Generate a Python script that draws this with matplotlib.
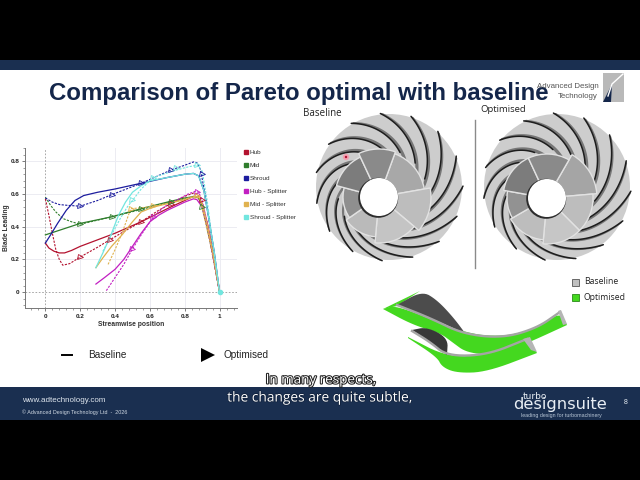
import numpy as np
import matplotlib
matplotlib.use("Agg")
import matplotlib.pyplot as plt
import matplotlib.patheffects as pe
from matplotlib.lines import Line2D
from matplotlib.patches import Circle, Polygon, Rectangle, Wedge
from matplotlib.ticker import MultipleLocator

plt.rcParams['font.family'] = ['Liberation Sans', 'DejaVu Sans']

series_names = ["Hub", "Mid", "Shroud", "Hub - Splitter", "Mid - Splitter", "Shroud - Splitter"]
series_colors = ["#b3122f", "#2f7d2c", "#1c1c9e", "#c21fc2", "#e0b24f", "#72e6df"]

base_x = [
    [0, .02, .05, .08, .11, .15, .2, .3, .4, .55, .7, .8, .85, .875, .9, .93, .96, 1],
    [0, .1, .2, .38, .55, .7, .8, .86, .88, .9, .93, .96, 1],
    [0, .03, .07, .12, .17, .22, .3, .4, .55, .7, .8, .85, .88, .91, .94, .97, 1],
    [.29, .34, .4, .45, .5, .55, .6, .65, .7, .8, .85, .87, .9, .93, .96, 1],
    [.29, .33, .38, .44, .5, .55, .62, .7, .8, .86, .88, .9, .93, .96, 1],
    [.29, .33, .38, .42, .46, .5, .55, .6, .7, .8, .85, .88, .91, .94, .97, 1],
]
base_y = [
    [.30, .27, .25, .24, .24, .255, .28, .32, .36, .43, .51, .56, .585, .58, .54, .42, .26, 0],
    [.35, .385, .42, .46, .51, .55, .575, .585, .575, .53, .40, .24, 0],
    [.30, .35, .42, .50, .56, .59, .61, .63, .665, .70, .72, .725, .71, .62, .44, .24, 0],
    [.05, .09, .14, .20, .28, .36, .43, .47, .50, .55, .57, .565, .52, .40, .24, 0],
    [.15, .21, .28, .35, .43, .49, .52, .54, .565, .585, .58, .54, .41, .25, 0],
    [.15, .24, .36, .47, .55, .61, .65, .68, .70, .72, .725, .71, .62, .44, .24, 0],
]
opt_x = [
    [0, .02, .04, .06, .08, .1, .14, .2, .3, .37, .45, .55, .65, .72, .8, .85, .87, .89, .92, .95, 1],
    [0, .03, .06, .1, .15, .2, .38, .55, .72, .82, .87, .89, .92, .96, 1],
    [0, .04, .08, .13, .2, .3, .38, .55, .72, .8, .85, .87, .89, .92, .96, 1],
    [.35, .4, .45, .5, .55, .62, .68, .75, .82, .86, .88, .9, .93, .96, 1],
    [.36, .4, .44, .47, .49, .55, .62, .72, .82, .87, .89, .92, .96, 1],
    [.33, .38, .43, .47, .5, .55, .62, .75, .82, .87, .9, .93, .96, 1],
]
opt_y = [
    [.57, .47, .36, .26, .2, .165, .175, .215, .275, .32, .37, .43, .50, .54, .585, .605, .60, .57, .44, .28, 0],
    [.58, .53, .49, .45, .43, .415, .46, .505, .55, .575, .585, .56, .43, .24, 0],
    [.575, .55, .535, .53, .525, .56, .595, .665, .745, .775, .795, .79, .75, .58, .30, 0],
    [.01, .09, .17, .265, .35, .46, .52, .56, .60, .615, .61, .56, .42, .25, 0],
    [.17, .26, .36, .45, .51, .515, .525, .545, .575, .59, .56, .42, .24, 0],
    [.25, .35, .45, .52, .56, .63, .70, .745, .765, .775, .74, .55, .30, 0],
]
marker_x = [
    [.2, .37, .55, .72, .9],
    [.2, .38, .55, .72, .9],
    [.2, .38, .55, .72, .9],
    [.5, .62, .87],
    [.49, .62, .87],
    [.5, .62, .75, .87],
]
marker_y = [
    [.215, .32, .43, .54, .565],
    [.415, .46, .505, .55, .52],
    [.525, .595, .665, .745, .72],
    [.265, .46, .61],
    [.51, .525, .585],
    [.56, .70, .755, .775],
]
x_ticks = [0, .2, .4, .6, .8, 1]
x_tick_labels = ["0", "0.2", "0.4", "0.6", "0.8", "1"]
y_ticks = [0, .2, .4, .6, .8]
y_tick_labels = ["0", "0.2", "0.4", "0.6", "0.8"]

NAVY = "#1a2f50"
fig = plt.figure(figsize=(6.4, 4.8), dpi=100, facecolor="white")

# slide furniture, in pixel coordinates
bg = fig.add_axes([0, 0, 1, 1], zorder=0)
bg.set_xlim(0, 640); bg.set_ylim(480, 0); bg.axis("off")
bg.add_patch(Rectangle((0, 0), 640, 60, color="black", lw=0))
bg.add_patch(Rectangle((0, 60), 640, 9.5, color=NAVY, lw=0))
bg.add_patch(Rectangle((0, 387), 640, 33, color=NAVY, lw=0))
bg.add_patch(Rectangle((0, 420), 640, 60, color="black", lw=0))


def chaikin(pts, n=3):
    p = np.array(pts, dtype=float)
    for _ in range(n):
        q = p[:-1] * .75 + p[1:] * .25
        r = p[:-1] * .25 + p[1:] * .75
        p = np.vstack([p[:1], np.column_stack([q, r]).reshape(-1, 2), p[-1:]])
    return p


def impeller(cx, cy, hx, hy, seed_rot, sectors):
    R = 74
    bg.add_patch(Circle((cx, cy), R - 1, color="#cdcdcd", lw=0, zorder=1))
    n = 15
    t = np.linspace(0, 1, 40)
    for i in range(n):
        a0 = seed_rot + 2 * np.pi * i / n
        r = 28 + (R - 28) * t
        th = a0 - 1.75 * t ** 0.75
        xs = hx + (cx - hx) * t + r * np.cos(th)
        ys = hy + (cy - hy) * t + r * np.sin(th)
        wid = 0.035 + 0.13 * (1 - t)
        xs2 = hx + (cx - hx) * t + r * np.cos(th + wid)
        ys2 = hy + (cy - hy) * t + r * np.sin(th + wid)
        bg.add_patch(Polygon(np.c_[np.r_[xs, xs2[::-1]], np.r_[ys, ys2[::-1]]], closed=True,
                             color="#777777", lw=0, zorder=2))
        bg.plot(xs[14:], ys[14:], color="#1d1d1d", lw=1.1, zorder=3, solid_capstyle="round")
    for a1, a2, rad, shade in sectors:
        bg.add_patch(Wedge((hx, hy), rad, a1, a2, facecolor=shade, edgecolor="#e2e2e2", lw=1.0, zorder=4))
    bg.add_patch(Circle((hx - 0.8, hy + 0.8), 20, color="#2c2c2c", lw=0, zorder=5))
    bg.add_patch(Circle((hx, hy), 19, color="white", lw=0, zorder=6))


sectors1 = [(-70, -10, 46, "#a8a8a8"), (-10, 40, 52, "#bdbdbd"), (40, 95, 46, "#c4c4c4"),
            (95, 145, 40, "#bababa"), (145, 195, 36, "#8f8f8f"), (195, 245, 44, "#7c7c7c"),
            (245, 290, 48, "#8a8a8a")]
sectors2 = [(-60, -5, 50, "#a5a5a5"), (-5, 45, 46, "#bdbdbd"), (45, 95, 46, "#c6c6c6"),
            (95, 150, 42, "#bdbdbd"), (150, 190, 40, "#929292"), (190, 245, 44, "#7c7c7c"),
            (245, 300, 44, "#8a8a8a")]
impeller(389, 187, 379, 197, 0.9, sectors1)
impeller(557, 187, 547, 198, 0.55, sectors2)
bg.add_patch(Circle((346, 157), 3.2, color="#f0a0b0", lw=0, zorder=7))
bg.add_patch(Circle((346, 157), 1.2, color="#b01030", lw=0, zorder=8))
bg.plot([474.5, 474.5], [120, 268], color="#8a8a8a", lw=1.0, zorder=7)


def blade(top, bottom, color, z):
    t = chaikin(top)
    b = chaikin(bottom)
    bg.add_patch(Polygon(np.vstack([t, b[::-1]]), closed=True, facecolor=color, edgecolor="none", zorder=z))


GREEN = "#44d81f"
blade([(383, 309), (397, 305), (463, 333), (503, 337), (537, 328), (560, 312), (567, 325)],
      [(383, 309), (413, 325), (440, 333), (452, 342), (467, 353), (497, 355), (530, 342), (567, 325)], GREEN, 10)
bg.add_patch(Polygon([(383, 309), (420, 291), (397, 306)], color=GREEN, lw=0, zorder=10))
blade([(397, 305), (422, 291), (437, 300), (453, 317), (465, 333)],
      [(397, 305), (430, 318), (465, 333)], "#4c4c4c", 11)
bg.plot(*chaikin([(397, 305), (430, 318), (463, 334), (503, 338), (537, 328), (560, 312)]).T,
        color="#a5a5a5", lw=1.7, zorder=12)
bg.add_patch(Polygon([(558, 311), (561, 310), (567, 324), (563, 325)], color="#b5b5b5", lw=0, zorder=13))
blade([(408, 337), (447, 357), (487, 355), (527, 338), (537, 353)],
      [(408, 338), (437, 357), (442, 367), (457, 373), (487, 372), (537, 353)], GREEN, 14)
blade([(412, 330), (427, 327), (448, 338), (447, 355)],
      [(412, 330), (430, 342), (447, 355)], "#383838", 15)
bg.plot(*chaikin([(412, 331), (430, 342), (447, 356), (487, 355), (527, 339)]).T,
        color="#a5a5a5", lw=1.7, zorder=16)
bg.add_patch(Polygon([(523, 339), (530, 337), (537, 352), (531, 350)], color="#b5b5b5", lw=0, zorder=17))
bg.add_patch(Rectangle((572, 279), 7, 7, facecolor="#c0c0c0", edgecolor="#555555", lw=0.6, zorder=15))
bg.add_patch(Rectangle((572, 294), 7, 7, facecolor=GREEN, edgecolor="#2a8a1a", lw=0.6, zorder=15))
bg.text(584, 281, "Baseline", fontsize=6.2, color="#222222", va="center", family="Open Sans", zorder=18)
bg.text(584, 297, "Optimised", fontsize=6.2, color="#222222", va="center", family="Open Sans", zorder=18)

# header and footer text
bg.text(298.5, 100, "Comparison of Pareto optimal with baseline", fontsize=17.3, fontweight="bold",
        color="#14264a", ha="center", va="baseline", zorder=20)
bg.text(599, 86, "Advanced Design", fontsize=5.7, color="#555555", ha="right", va="center", zorder=21)
bg.text(598, 97, "Technology", fontsize=5.7, color="#555555", ha="right", va="center", zorder=21)
bg.add_patch(Polygon([(603, 73), (624, 73), (624, 102), (603, 102)], color="#b9b9b9", lw=0, zorder=19))
bg.add_patch(Polygon([(603, 102), (612, 84), (611, 102)], color="#14264a", lw=0, zorder=20))
bg.plot([608, 612, 623], [96, 84, 74], color="white", lw=1.0, zorder=20)
bg.text(303, 113, "Baseline", fontsize=7, color="#222222", va="center", family="Open Sans", zorder=21)
bg.text(480, 110, "Optimised", fontsize=6.8, color="#222222", va="center", family="Open Sans", zorder=21)
bg.text(22, 400, "www.adtechnology.com", fontsize=5.8, color="#dfe6ee", va="center", zorder=21)
bg.text(22, 412, "© Advanced Design Technology Ltd  -  2026", fontsize=3.85, color="#cfd8e2", va="center", zorder=21)
bg.text(624, 403, "8", fontsize=5, color="#e8eef4", ha="left", va="center", zorder=21)
bg.text(535, 396.5, "turbo", fontsize=6.5, color="#e8eef4", ha="center", va="center", family="DejaVu Sans", zorder=21)
bg.text(559.5, 404, "designsuite", fontsize=11.7, color="#e8eef4", ha="center", va="center", family="DejaVu Sans", zorder=21)
bg.text(561, 415, "leading design for turbomachinery", fontsize=3.8, color="#b8c6d6", ha="center", va="center", zorder=21)
bg.text(321, 380, "In many respects,", fontsize=9.7, color="white", ha="center", va="center",
        family="Open Sans", path_effects=[pe.withStroke(linewidth=1.5, foreground="#222222")], zorder=22)
bg.text(320, 398, "the changes are quite subtle,", fontsize=9.9, color="white", ha="center", va="center",
        family="Open Sans", path_effects=[pe.withStroke(linewidth=1.0, foreground="#10203a")], zorder=22)

# bottom key of the chart
bg.plot([61.5, 72], [355, 355], color="black", lw=1.4, zorder=21)
bg.text(88, 355, "Baseline", fontsize=7.2, color="#222222", va="center", zorder=21)
bg.plot([208], [355], marker=">", ms=10, color="black", mew=0, zorder=21)
bg.text(223, 355, "Optimised", fontsize=7.2, color="#222222", va="center", zorder=21)

# chart, placed so that data (0,0) and (1,0.8) land on the reference pixels
left, right, top, bottom = 25, 237, 148, 308
ax = fig.add_axes([left / 640, 1 - bottom / 480, (right - left) / 640, (bottom - top) / 480], zorder=5)
ax.patch.set_alpha(0)
ax.set_xlim(-0.117, 1.1)
ax.set_ylim(-0.096, 0.88)

for g in [.2, .4, .6, .8, 1]:
    ax.axvline(g, color="#ececf2", lw=0.7, zorder=0)
for g in [.2, .4, .6, .8]:
    ax.axhline(g, color="#ececf2", lw=0.7, zorder=0)
ax.axvline(0, color="#9a9a9a", lw=0.6, ls=(0, (2, 2)), zorder=1)
ax.plot([-.117, 1.1], [0, 0], color="#9a9a9a", lw=0.6, ls=(0, (2, 2)), zorder=1)

for xs, ys, ox, oy, mx, my, c in zip(base_x, base_y, opt_x, opt_y, marker_x, marker_y, series_colors):
    ax.plot(xs, ys, color=c, lw=0.9, zorder=3)
    ax.plot(ox, oy, color=c, lw=0.8, ls=(0, (2, 1.2)), zorder=3)
    ax.plot(mx, my, ls="none", marker=">", ms=3.6, mfc="none", mec=c, mew=0.6, zorder=4)
ax.plot([1], [0], marker="o", ms=3, color=series_colors[5], zorder=5)

for s in ["top", "right"]:
    ax.spines[s].set_visible(False)
for s in ["left", "bottom"]:
    ax.spines[s].set_color("#777777")
    ax.spines[s].set_linewidth(0.7)
ax.set_xticks(x_ticks, x_tick_labels)
ax.set_yticks(y_ticks, y_tick_labels)
ax.xaxis.set_minor_locator(MultipleLocator(.04))
ax.yaxis.set_minor_locator(MultipleLocator(.04))
ax.tick_params(which="major", length=2.5, width=0.6, color="#666666", labelsize=4.6, labelcolor="#222222", pad=1.5)
ax.tick_params(which="minor", length=1.4, width=0.5, color="#777777")
for label in ax.get_xticklabels() + ax.get_yticklabels():
    label.set_fontweight("bold")
ax.set_xlabel("Streamwise position", fontsize=4.9, fontweight="bold", color="#333333", labelpad=2)
ax.set_ylabel("Blade Leading", fontsize=4.9, fontweight="bold", color="#333333", labelpad=0.5)

handles = [Line2D([], [], ls="none", marker="s", ms=3, color=c) for c in series_colors]
ax.legend(handles, series_names, loc="upper left", bbox_to_anchor=(1.02, 1.0), frameon=False,
          fontsize=4.6, labelspacing=1.18, handletextpad=0.1, handlelength=1.0, borderaxespad=0, borderpad=0.25,
          labelcolor="#333333")

fig.savefig("out.png", dpi=100)
